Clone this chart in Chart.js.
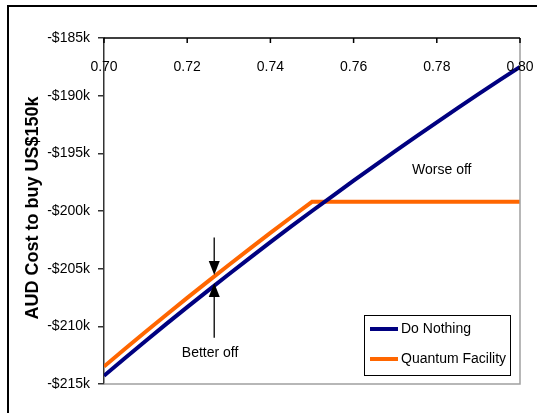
<!DOCTYPE html>
<html>
<head>
<meta charset="utf-8">
<script src="https://cdn.jsdelivr.net/npm/chart.js@4"></script>
<style>
  html, body { margin: 0; padding: 0; background: #fff; }
  #wrap { width: 537px; height: 413px; position: relative; }
</style>
</head>
<body>
<div id="wrap"><canvas id="chart" width="537" height="413"></canvas></div>
<script>
// ================= DATA =================
const rates = [0.700, 0.705, 0.710, 0.715, 0.720, 0.725, 0.730, 0.735, 0.740, 0.745,
               0.750, 0.755, 0.760, 0.765, 0.770, 0.775, 0.780, 0.785, 0.790, 0.795, 0.800];
// AUD cost in $k
const doNothing = [-214.29, -212.77, -211.27, -209.79, -208.33, -206.90, -205.48, -204.08, -202.70, -201.34,
                   -200.00, -198.68, -197.37, -196.08, -194.81, -193.55, -192.31, -191.08, -189.87, -188.68, -187.50];
const quantum = [-213.49, -211.97, -210.47, -208.99, -207.53, -206.10, -204.68, -203.28, -201.90, -200.54,
                 -199.20, -199.20, -199.20, -199.20, -199.20, -199.20, -199.20, -199.20, -199.20, -199.20, -199.20];
const xTicks = [0.70, 0.72, 0.74, 0.76, 0.78, 0.80];
const yTicks = [-185, -190, -195, -200, -205, -210, -215];

const seriesNames = ["Do Nothing", "Quantum Facility"];
const seriesColors = ["#000080", "#ff6600"];
const yTitle = "AUD Cost to buy US$150k";

// annotation anchors (data space)
const arrowX = 0.7265;
const upperArrow = [-202.3, -205.55];
const lowerArrow = [-211.0, -206.25];
const betterOff = { x: 0.7255, y: -212.3, text: "Better off" };
const worseOff = { x: 0.7812, y: -196.45, text: "Worse off" };

const FONT = "Arial, 'Liberation Sans', sans-serif";

function toPoints(vals) {
  return rates.map((r, i) => ({ x: r, y: vals[i] * 1000 }));
}

// ================= PLUGIN: frame, top axis, notes, legend =================
const decorations = {
  id: "decorations",
  beforeDraw(chart) {
    const ctx = chart.ctx;
    ctx.save();
    ctx.fillStyle = "#fff";
    ctx.fillRect(0, 0, chart.width, chart.height);
    ctx.strokeStyle = "#000";
    ctx.lineWidth = 2;
    ctx.beginPath();
    ctx.moveTo(8, chart.height);
    ctx.lineTo(8, 6);
    ctx.lineTo(chart.width, 6);
    ctx.stroke();

    // y axis title
    ctx.translate(33, 208);
    ctx.rotate(-Math.PI / 2);
    ctx.fillStyle = "#000";
    ctx.font = "bold 18px " + FONT;
    ctx.textAlign = "center";
    ctx.textBaseline = "middle";
    ctx.fillText(yTitle, 0, 0);
    ctx.restore();
  },
  afterDatasetsDraw(chart) {
    const ctx = chart.ctx;
    const { left, right, top, bottom } = chart.chartArea;
    const xs = chart.scales.x, ys = chart.scales.y;
    ctx.save();

    // plot area border (right + bottom)
    ctx.strokeStyle = "#a0a0a0";
    ctx.lineWidth = 1.5;
    ctx.beginPath();
    ctx.moveTo(right, top);
    ctx.lineTo(right, bottom);
    ctx.lineTo(left, bottom);
    ctx.stroke();

    // top axis line + ticks pointing down
    ctx.strokeStyle = "#000";
    ctx.lineWidth = 1.5;
    ctx.beginPath();
    ctx.moveTo(left, top);
    ctx.lineTo(right, top);
    xTicks.forEach(t => {
      const px = xs.getPixelForValue(t);
      ctx.moveTo(px, top);
      ctx.lineTo(px, top + 5);
    });
    ctx.stroke();

    // top axis labels (below the line)
    ctx.fillStyle = "#000";
    ctx.font = "14px " + FONT;
    ctx.textAlign = "center";
    ctx.textBaseline = "middle";
    xTicks.forEach(t => {
      ctx.fillText(t.toFixed(2), xs.getPixelForValue(t), top + 29);
    });

    // arrows
    const ax = xs.getPixelForValue(arrowX);
    function arrow(fromV, tipV) {
      const y0 = ys.getPixelForValue(fromV * 1000);
      const y1 = ys.getPixelForValue(tipV * 1000);
      const dir = y1 > y0 ? 1 : -1;
      ctx.strokeStyle = "#222";
      ctx.lineWidth = 1.5;
      ctx.beginPath();
      ctx.moveTo(ax, y0);
      ctx.lineTo(ax, y1 - dir * 12);
      ctx.stroke();
      ctx.fillStyle = "#000";
      ctx.beginPath();
      ctx.moveTo(ax, y1);
      ctx.lineTo(ax - 5.5, y1 - dir * 14);
      ctx.lineTo(ax + 5.5, y1 - dir * 14);
      ctx.closePath();
      ctx.fill();
    }
    arrow(upperArrow[0], upperArrow[1]);
    arrow(lowerArrow[0], lowerArrow[1]);

    // notes
    ctx.fillStyle = "#000";
    ctx.font = "14px " + FONT;
    ctx.textAlign = "center";
    ctx.textBaseline = "middle";
    [betterOff, worseOff].forEach(n => {
      ctx.fillText(n.text, xs.getPixelForValue(n.x), ys.getPixelForValue(n.y * 1000));
    });

    // legend box
    const lx = right - 156, ly = bottom - 69, lw = 146, lh = 60;
    ctx.fillStyle = "#fff";
    ctx.fillRect(lx, ly, lw, lh);
    ctx.strokeStyle = "#000";
    ctx.lineWidth = 1;
    ctx.strokeRect(lx + 0.5, ly + 0.5, lw, lh);
    seriesNames.forEach((name, i) => {
      const cy = ly + 14 + i * 30;
      ctx.strokeStyle = seriesColors[i];
      ctx.lineWidth = 4;
      ctx.beginPath();
      ctx.moveTo(lx + 6, cy);
      ctx.lineTo(lx + 34, cy);
      ctx.stroke();
      ctx.fillStyle = "#000";
      ctx.textAlign = "left";
      ctx.fillText(name, lx + 37, cy);
    });

    ctx.restore();
  }
};

// ================= CHART =================
new Chart(document.getElementById("chart"), {
  type: "line",
  data: {
    datasets: [
      {
        label: seriesNames[0],
        data: toPoints(doNothing),
        borderColor: seriesColors[0],
        borderWidth: 4,
        pointRadius: 0,
        tension: 0
      },
      {
        label: seriesNames[1],
        data: toPoints(quantum),
        borderColor: seriesColors[1],
        borderWidth: 4,
        pointRadius: 0,
        tension: 0
      }
    ]
  },
  options: {
    responsive: false,
    animation: false,
    layout: { padding: { left: 0, top: 38, right: 17, bottom: 29 } },
    plugins: { legend: { display: false }, tooltip: { enabled: false } },
    scales: {
      x: {
        type: "linear",
        position: "top",
        display: false,
        min: 0.70,
        max: 0.80
      },
      y: {
        min: -215000,
        max: -185000,
        afterFit: s => { s.width = 104; },
        afterBuildTicks: s => { s.ticks = yTicks.map(v => ({ value: v * 1000 })); },
        grid: { drawOnChartArea: false, drawTicks: true, tickLength: 6, color: "#333", lineWidth: 1.5 },
        border: { display: true, color: "#333", width: 1.5 },
        ticks: {
          color: "#000",
          padding: 8,
          font: { family: FONT, size: 14 },
          callback: v => "-$" + Math.abs(v) / 1000 + "k"
        }
      }
    }
  },
  plugins: [decorations]
});
</script>
</body>
</html>
